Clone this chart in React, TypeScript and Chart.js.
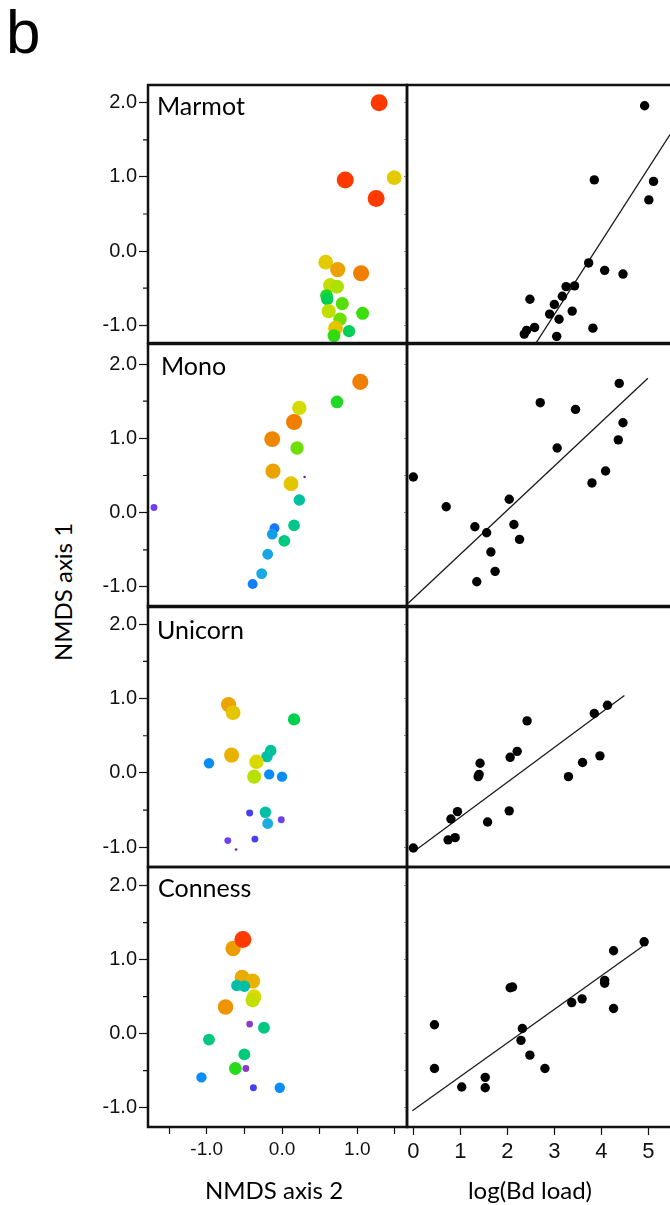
import React, { useEffect, useRef } from "react";
import { Chart, registerables } from "chart.js";

Chart.register(...registerables);

// ---------------- data ----------------
const siteNames = ["Marmot", "Mono", "Unicorn", "Conness"];

// Left panels: NMDS axis 2 (x), NMDS axis 1 (y), colour/size variable (shade, 0 = low .. 1 = high, -0.1 = trace)
const marmotNmds2 = [1.29, 0.84, 1.49, 1.25, 0.58, 0.74, 1.05, 0.64, 0.73, 0.59, 0.6, 0.8, 0.62, 1.07, 0.77, 0.71, 0.89, 0.69];
const marmotNmds1 = [2.0, 0.96, 0.99, 0.71, -0.15, -0.25, -0.3, -0.46, -0.48, -0.6, -0.65, -0.71, -0.81, -0.84, -0.92, -1.04, -1.08, -1.14];
const marmotShade = [1.0, 1.0, 0.84, 1.0, 0.84, 0.9, 0.95, 0.78, 0.75, 0.62, 0.58, 0.67, 0.77, 0.65, 0.69, 0.85, 0.57, 0.64];

const monoNmds2 = [-1.7, 1.04, 0.73, 0.23, 0.16, -0.13, 0.2, -0.12, 0.12, 0.3, 0.23, 0.16, -0.1, -0.13, 0.03, -0.19, -0.27, -0.39];
const monoNmds1 = [0.07, 1.76, 1.49, 1.41, 1.22, 0.99, 0.87, 0.56, 0.39, 0.48, 0.17, -0.17, -0.21, -0.29, -0.38, -0.56, -0.82, -0.96];
const monoShade = [0.05, 0.95, 0.62, 0.8, 0.95, 0.94, 0.69, 0.9, 0.85, -0.1, 0.46, 0.5, 0.22, 0.32, 0.52, 0.34, 0.35, 0.24];

const unicornNmds2 = [-0.71, -0.65, 0.16, -0.15, -0.2, -0.67, -0.97, -0.34, -0.37, -0.17, 0.0, -0.43, -0.22, -0.19, -0.01, -0.72, -0.36, -0.61];
const unicornNmds1 = [0.92, 0.81, 0.72, 0.3, 0.22, 0.24, 0.13, 0.15, -0.05, -0.02, -0.05, -0.54, -0.53, -0.68, -0.63, -0.91, -0.89, -1.03];
const unicornShade = [0.9, 0.85, 0.58, 0.48, 0.45, 0.88, 0.28, 0.81, 0.76, 0.28, 0.28, 0.1, 0.45, 0.36, 0.05, 0.05, 0.1, -0.1];

const connessNmds2 = [-0.65, -0.53, -0.39, -0.52, -0.6, -0.5, -0.37, -0.39, -0.75, -0.43, -0.24, -0.97, -0.5, -0.62, -0.48, -1.07, -0.38, -0.03];
const connessNmds1 = [1.15, 0.76, 0.71, 1.27, 0.65, 0.64, 0.5, 0.45, 0.36, 0.13, 0.08, -0.08, -0.28, -0.47, -0.47, -0.59, -0.73, -0.73];
const connessShade = [0.91, 0.89, 0.88, 1.0, 0.45, 0.45, 0.82, 0.78, 0.92, 0.0, 0.52, 0.52, 0.53, 0.63, 0.0, 0.28, 0.1, 0.28];

// Right panels: log(Bd load) (x), NMDS axis 1 (y), fitted line end points
const marmotLogBd = [4.92, 3.85, 5.11, 5.01, 3.73, 4.07, 4.46, 3.25, 3.43, 3.17, 2.48, 3.0, 2.9, 3.38, 3.1, 2.58, 2.41, 2.36, 3.82, 3.05];
const marmotAxis1 = [1.96, 0.96, 0.94, 0.69, -0.16, -0.26, -0.31, -0.48, -0.47, -0.61, -0.65, -0.72, -0.85, -0.81, -0.92, -1.03, -1.07, -1.12, -1.04, -1.15];
const marmotFitX = [2.6, 5.46];
const marmotFitY = [-1.25, 1.57];

const monoLogBd = [0.0, 0.7, 1.31, 1.56, 2.04, 2.14, 2.26, 1.65, 1.74, 1.35, 2.7, 3.45, 3.06, 4.38, 4.46, 4.36, 4.09, 3.8];
const monoAxis1 = [0.48, 0.08, -0.19, -0.27, 0.18, -0.16, -0.36, -0.53, -0.79, -0.93, 1.48, 1.39, 0.87, 1.74, 1.21, 0.98, 0.56, 0.4];
const monoFitX = [-0.11, 4.99];
const monoFitY = [-1.22, 1.81];

const unicornLogBd = [0.0, 0.74, 0.89, 0.8, 0.94, 1.58, 2.04, 1.38, 1.4, 1.42, 2.06, 2.21, 2.42, 3.3, 3.6, 3.97, 3.85, 4.13];
const unicornAxis1 = [-1.01, -0.9, -0.87, -0.62, -0.52, -0.66, -0.51, -0.05, -0.02, 0.13, 0.21, 0.29, 0.7, -0.05, 0.14, 0.23, 0.8, 0.91];
const unicornFitX = [0.07, 4.49];
const unicornFitY = [-1.03, 1.04];

const connessLogBd = [0.45, 0.45, 1.03, 1.53, 1.53, 2.06, 2.11, 2.32, 2.29, 2.48, 2.8, 3.37, 3.59, 4.07, 4.07, 4.26, 4.26, 4.91];
const connessAxis1 = [0.12, -0.47, -0.72, -0.59, -0.73, 0.62, 0.63, 0.07, -0.09, -0.29, -0.47, 0.42, 0.47, 0.72, 0.68, 1.12, 0.34, 1.24];
const connessFitX = [-0.02, 4.88];
const connessFitY = [-1.04, 1.18];

const nmdsTicksLabelled = [-1, 0, 1];
const bdTicks = [0, 1, 2, 3, 4, 5];

// ---------------- styling / layout ----------------
const leftX = [marmotNmds2, monoNmds2, unicornNmds2, connessNmds2];
const leftY = [marmotNmds1, monoNmds1, unicornNmds1, connessNmds1];
const leftShade = [marmotShade, monoShade, unicornShade, connessShade];
const rightX = [marmotLogBd, monoLogBd, unicornLogBd, connessLogBd];
const rightY = [marmotAxis1, monoAxis1, unicornAxis1, connessAxis1];
const fitXs = [marmotFitX, monoFitX, unicornFitX, connessFitX];
const fitYs = [marmotFitY, monoFitY, unicornFitY, connessFitY];

const ROW_TOP = [85, 344, 606, 867];
const ROW_BOTTOM = [343, 607, 867, 1127];
const Y_MIN = [-1.24, -1.27, -1.265, -1.26];
const Y_MAX = [2.24, 2.27, 2.245, 2.25];
const LABEL_DX = [9, 13, 9, 10];
const LABEL_DY = [30, 31, 32.5, 30];

const PLOT_LEFT = 148;
const MID = 407;
const RIGHT_END = 670;
const PAD = 4;
const X_AXIS_H = 45;
const LEFT_CANVAS = 95;

const COLOR_STOPS: [number, string][] = [
  [-0.1, "#6a2a86"],
  [0.0, "#8a3cc8"],
  [0.05, "#7040ee"],
  [0.1, "#4440f2"],
  [0.2, "#1a70ff"],
  [0.28, "#0a8cf5"],
  [0.36, "#1aaee0"],
  [0.45, "#00bfa5"],
  [0.52, "#00c880"],
  [0.58, "#00d050"],
  [0.64, "#30dc10"],
  [0.7, "#7ae000"],
  [0.76, "#b8e000"],
  [0.82, "#e0d800"],
  [0.87, "#e8b800"],
  [0.92, "#ee9400"],
  [0.96, "#f07800"],
  [1.0, "#ff3a00"],
];
const SIZE_STOPS: [number, number][] = [
  [-0.1, 1.3],
  [0.0, 3.4],
  [0.12, 3.5],
  [0.2, 4.9],
  [0.4, 5.6],
  [0.55, 6.0],
  [0.75, 7.0],
  [0.9, 7.6],
  [1.0, 8.5],
];

function hexToRgb(h: string) {
  return [parseInt(h.slice(1, 3), 16), parseInt(h.slice(3, 5), 16), parseInt(h.slice(5, 7), 16)];
}
function shadeColor(z: number) {
  if (z <= COLOR_STOPS[0][0]) return COLOR_STOPS[0][1];
  for (let i = 1; i < COLOR_STOPS.length; i++) {
    const [z1, c1] = COLOR_STOPS[i];
    if (z <= z1) {
      const [z0, c0] = COLOR_STOPS[i - 1];
      const t = (z - z0) / (z1 - z0);
      const a = hexToRgb(c0), b = hexToRgb(c1);
      const m = a.map((v, k) => Math.round(v + (b[k] - v) * t));
      return `rgb(${m[0]},${m[1]},${m[2]})`;
    }
  }
  return COLOR_STOPS[COLOR_STOPS.length - 1][1];
}
function shadeSize(z: number) {
  if (z <= SIZE_STOPS[0][0]) return SIZE_STOPS[0][1];
  for (let i = 1; i < SIZE_STOPS.length; i++) {
    const [z1, r1] = SIZE_STOPS[i];
    if (z <= z1) {
      const [z0, r0] = SIZE_STOPS[i - 1];
      return r0 + ((z - z0) / (z1 - z0)) * (r1 - r0);
    }
  }
  return SIZE_STOPS[SIZE_STOPS.length - 1][1];
}

const INK = "#111";
const TICK_FONT = "Liberation Sans";
const TITLE_FONT = "Lato";

const framePlugin = {
  id: "frame",
  afterDatasetsDraw(chart: any, _args: any, opts: any) {
    const { ctx, chartArea: a } = chart;
    ctx.save();
    ctx.strokeStyle = INK;
    ctx.lineWidth = 2.5;
    ctx.beginPath();
    if (opts.openRight) {
      ctx.moveTo(a.right + 2, a.top);
      ctx.lineTo(a.left, a.top);
      ctx.lineTo(a.left, a.bottom);
      ctx.lineTo(a.right + 2, a.bottom);
    } else {
      ctx.rect(a.left, a.top, a.right - a.left, a.bottom - a.top);
    }
    ctx.stroke();
    if (opts.minorY) {
      const y = chart.scales.y;
      ctx.lineWidth = 1.2;
      ctx.beginPath();
      const ticks = y.ticks.map((t: any) => t.value);
      for (let i = 0; i < ticks.length - 1; i++) {
        const v = (ticks[i] + ticks[i + 1]) / 2;
        const p = y.getPixelForValue(v);
        ctx.moveTo(a.left - 5, p);
        ctx.lineTo(a.left, p);
      }
      ctx.stroke();
    }
    if (opts.label) {
      ctx.fillStyle = "#000";
      ctx.font = `25px ${TITLE_FONT}`;
      ctx.textBaseline = "alphabetic";
      ctx.textAlign = "left";
      ctx.fillText(opts.label, a.left + opts.dx, a.top + opts.dy);
    }
    ctx.restore();
  },
};

function fixX(show: boolean) {
  return (s: any) => {
    s.height = show ? X_AXIS_H : 0;
    s.paddingLeft = 0;
    s.paddingRight = 0;
    s.paddingTop = 0;
    s.paddingBottom = 0;
  };
}
function fixY(w: number) {
  return (s: any) => {
    s.width = w;
    s.paddingTop = 0;
    s.paddingBottom = 0;
    s.paddingLeft = 0;
    s.paddingRight = 0;
  };
}

function leftConfig(i: number): any {
  const last = i === 3;
  const pts = leftX[i].map((x, k) => ({ x, y: leftY[i][k] }));
  return {
    type: "scatter",
    data: {
      datasets: [
        {
          data: pts,
          pointRadius: leftShade[i].map(shadeSize),
          pointBackgroundColor: leftShade[i].map(shadeColor),
          pointBorderWidth: 0,
          pointBorderColor: "rgba(0,0,0,0)",
          clip: false,
        },
      ],
    },
    plugins: [framePlugin],
    options: {
      animation: false,
      responsive: false,
      events: [],
      layout: { autoPadding: false, padding: { top: PAD, right: PAD, bottom: last ? 0 : PAD, left: 0 } },
      plugins: {
        legend: { display: false },
        tooltip: { enabled: false },
        frame: { label: siteNames[i], dx: LABEL_DX[i], dy: LABEL_DY[i], minorY: true },
      },
      scales: {
        x: {
          type: "linear",
          min: -1.78,
          max: 1.66,
          display: last,
          afterFit: fixX(last),
          ticks: {
            stepSize: 0.5,
            includeBounds: false,
            autoSkip: false,
            maxRotation: 0,
            callback: (v: number) =>
              nmdsTicksLabelled.some((t) => Math.abs(t - v) < 1e-6) ? v.toFixed(1) : "",
            font: { family: TICK_FONT, size: 19 },
            color: INK,
            padding: 4,
          },
          grid: { drawOnChartArea: false, tickLength: 7, tickColor: INK, tickWidth: 1.2 },
          border: { display: false },
        },
        y: {
          type: "linear",
          min: Y_MIN[i],
          max: Y_MAX[i],
          afterFit: fixY(PLOT_LEFT - LEFT_CANVAS),
          ticks: {
            stepSize: 1,
            includeBounds: false,
            callback: (v: number) => v.toFixed(1),
            font: { family: TICK_FONT, size: 20 },
            color: INK,
            padding: 2,
          },
          grid: { drawOnChartArea: false, tickLength: 9, tickColor: INK, tickWidth: 1.2 },
          border: { display: false },
        },
      },
    },
  };
}

function rightConfig(i: number): any {
  const last = i === 3;
  const pts = rightX[i].map((x, k) => ({ x, y: rightY[i][k] }));
  const fit = fitXs[i].map((x, k) => ({ x, y: fitYs[i][k] }));
  return {
    type: "scatter",
    data: {
      datasets: [
        {
          data: pts,
          pointRadius: 4.7,
          pointBackgroundColor: "#000",
          pointBorderWidth: 0,
        },
        {
          data: fit,
          showLine: true,
          borderColor: "#1a1a1a",
          borderWidth: 1.3,
          pointRadius: 0,
        },
      ],
    },
    plugins: [framePlugin],
    options: {
      animation: false,
      responsive: false,
      events: [],
      layout: { autoPadding: false, padding: { top: PAD, right: 0, bottom: last ? 0 : PAD, left: 0 } },
      plugins: {
        legend: { display: false },
        tooltip: { enabled: false },
        frame: { openRight: true },
      },
      scales: {
        x: {
          type: "linear",
          min: -0.134,
          max: 5.46,
          display: last,
          afterFit: fixX(last),
          ticks: {
            stepSize: 1,
            includeBounds: false,
            autoSkip: false,
            maxRotation: 0,
            callback: (v: number) => (bdTicks.includes(Math.round(v)) ? String(Math.round(v)) : ""),
            font: { family: TICK_FONT, size: 22 },
            color: INK,
            padding: 4,
          },
          grid: { drawOnChartArea: false, tickLength: 8, tickColor: INK, tickWidth: 1.2 },
          border: { display: false },
        },
        y: {
          type: "linear",
          min: Y_MIN[i],
          max: Y_MAX[i],
          afterFit: fixY(4),
          ticks: { display: false, stepSize: 0.5, includeBounds: false },
          grid: { drawOnChartArea: false, tickLength: 3, tickColor: "#888", tickWidth: 1 },
          border: { display: false },
        },
      },
    },
  };
}

function Panel({ left, top, width, height, build }: any) {
  const ref = useRef<HTMLCanvasElement>(null);
  useEffect(() => {
    const chart = new Chart(ref.current as HTMLCanvasElement, build());
    return () => chart.destroy();
  }, []);
  return (
    <canvas
      ref={ref}
      width={width}
      height={height}
      style={{ position: "absolute", left, top, width, height, display: "block" }}
    />
  );
}

export default function App() {
  const panels: any[] = [];
  for (let i = 0; i < 4; i++) {
    const last = i === 3;
    const top = ROW_TOP[i] - PAD;
    const h = ROW_BOTTOM[i] - ROW_TOP[i] + PAD + (last ? X_AXIS_H : PAD);
    panels.push(
      <Panel key={"l" + i} left={LEFT_CANVAS} top={top} width={MID + PAD - LEFT_CANVAS} height={h} build={() => leftConfig(i)} />
    );
    panels.push(
      <Panel key={"r" + i} left={MID - 4} top={top} width={RIGHT_END - (MID - 4)} height={h} build={() => rightConfig(i)} />
    );
  }
  const title: React.CSSProperties = {
    position: "absolute",
    fontFamily: TITLE_FONT,
    fontSize: 24,
    lineHeight: "30px",
    height: 30,
    color: "#000",
    textAlign: "center",
    whiteSpace: "nowrap",
  };
  return (
    <div
      style={{
        position: "absolute",
        left: 0,
        top: 0,
        width: 670,
        height: 1205,
        overflow: "hidden",
        background: "#fff",
      }}
    >
      <div
        style={{
          position: "absolute",
          left: 6,
          top: 1,
          fontFamily: "Liberation Sans",
          fontSize: 62,
          lineHeight: "62px",
          color: "#000",
        }}
      >
        b
      </div>
      {panels}
      <div style={{ ...title, left: 63 - 100, top: 592 - 15, width: 200, transform: "rotate(-90deg)" }}>
        NMDS axis 1
      </div>
      <div style={{ ...title, left: 274 - 100, top: 1175, width: 200 }}>NMDS axis 2</div>
      <div style={{ ...title, left: 530 - 100, top: 1175, width: 200 }}>log(Bd load)</div>
    </div>
  );
}
